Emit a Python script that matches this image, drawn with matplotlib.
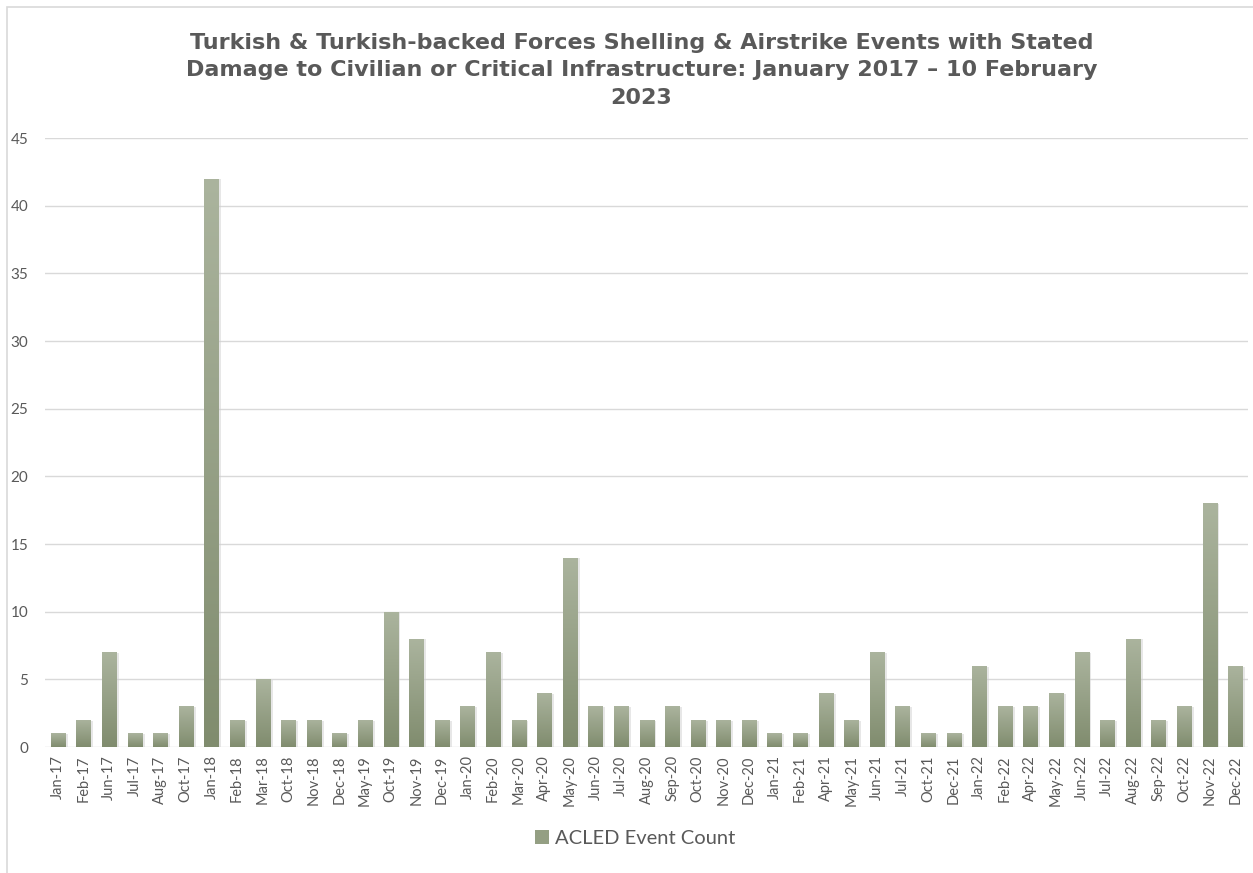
import matplotlib.pyplot as plt
from matplotlib.patches import Rectangle, Patch
from matplotlib.colors import LinearSegmentedColormap
import numpy as np

months = ["Jan-17", "Feb-17", "Jun-17", "Jul-17", "Aug-17", "Oct-17", "Jan-18", "Feb-18",
          "Mar-18", "Oct-18", "Nov-18", "Dec-18", "May-19", "Oct-19", "Nov-19", "Dec-19",
          "Jan-20", "Feb-20", "Mar-20", "Apr-20", "May-20", "Jun-20", "Jul-20", "Aug-20",
          "Sep-20", "Oct-20", "Nov-20", "Dec-20", "Jan-21", "Feb-21", "Apr-21", "May-21",
          "Jun-21", "Jul-21", "Oct-21", "Dec-21", "Jan-22", "Feb-22", "Apr-22", "May-22",
          "Jun-22", "Jul-22", "Aug-22", "Sep-22", "Oct-22", "Nov-22", "Dec-22"]
event_count = [1, 2, 7, 1, 1, 3, 42, 2, 5, 2, 2, 1, 2, 10, 8, 2, 3, 7, 2, 4, 14, 3, 3, 2,
               3, 2, 2, 2, 1, 1, 4, 2, 7, 3, 1, 1, 6, 3, 3, 4, 7, 2, 8, 2, 3, 18, 6]

plt.rcParams['font.family'] = ['Lato', 'DejaVu Sans']

fig = plt.figure(figsize=(12.53, 8.73), dpi=100)
ax = fig.add_axes([0.036, 0.1443, 0.96, 0.6976])

# chart border
fig.patches.append(Rectangle((7 / 1253, -0.01), 1.0, 1.0 - 7 / 873 + 0.01,
                             transform=fig.transFigure, fill=False,
                             ec='#d9d9d9', lw=1.2))

x = np.arange(len(months))
width = 0.55
bars = ax.bar(x, event_count, width, color='none', zorder=3)

# vertical gradient (light top, darker bottom) for each bar
grad = np.linspace(0, 1, 256).reshape(-1, 1)
cmap = LinearSegmentedColormap.from_list('g', ['#808c6e', '#abb49e'])
for b in bars:
    bx, by, bw, bh = b.get_x(), b.get_y(), b.get_width(), b.get_height()
    # soft shadow
    ax.add_patch(Rectangle((bx + 0.06, by), bw + 0.05, bh - 0.05, color='#d0d0d0',
                           alpha=0.5, zorder=2, lw=0))
    im = ax.imshow(grad, cmap=cmap, origin='lower', aspect='auto',
                   extent=(bx, bx + bw, by, by + bh), zorder=3)
    im.set_clip_path(b)

ax.set_xlim(-0.5, len(months) - 0.5)
ax.set_ylim(0, 45)
ax.set_yticks(range(0, 46, 5))
ax.set_xticks(x)
ax.set_xticklabels(months, rotation=90, fontsize=10.5, color='#595959')
ax.tick_params(axis='y', labelsize=11, colors='#595959', length=0, pad=12)
ax.tick_params(axis='x', length=0, pad=6)
ax.grid(axis='y', color='#d9d9d9', lw=1, zorder=0)
for s in ax.spines.values():
    s.set_visible(False)

fig.text(0.512, 0.962,
         "Turkish & Turkish-backed Forces Shelling & Airstrike Events with Stated\n"
         "Damage to Civilian or Critical Infrastructure: January 2017 \u2013 10 February\n"
         "2023",
         ha='center', va='top', fontsize=16, fontweight='bold', color='#595959',
         linespacing=1.45, family='DejaVu Sans')

handle = Patch(facecolor='#949f83', edgecolor='none')
fig.legend([handle], ['ACLED Event Count'], loc='center', bbox_to_anchor=(0.507, 0.04),
           frameon=False, fontsize=14.5, labelcolor='#595959', handlelength=0.7,
           handleheight=0.7, handletextpad=0.3)

fig.savefig('out.png', dpi=100)
